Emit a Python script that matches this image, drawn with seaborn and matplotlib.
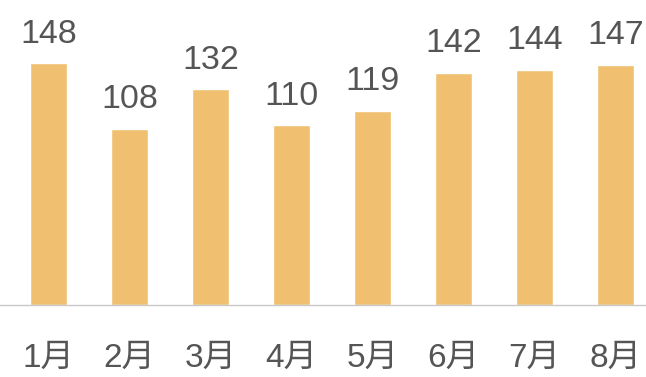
import matplotlib
matplotlib.use("Agg")
import matplotlib.pyplot as plt
import seaborn as sns
import pandas as pd

# Monthly values
months = ["1月", "2月", "3月", "4月", "5月", "6月", "7月", "8月"]
values = [148, 108, 132, 110, 119, 142, 144, 147]

sns.set_theme(style="white")
plt.rcParams["font.family"] = ["Liberation Sans", "Noto Sans CJK SC", "DejaVu Sans"]

df = pd.DataFrame({"month": months, "value": values})

W, H = 646, 377
fig = plt.figure(figsize=(W / 100, H / 100), dpi=100)
ax = fig.add_axes([0, 72 / H, 1, 1 - 72 / H])

bar_color = "#F0C070"
sns.barplot(data=df, x="month", y="value", color=bar_color, width=0.46,
            saturation=1, ax=ax)

# Horizontal placement: first bar centre ~48px, spacing ~81px
step = 81.0
x0 = -48.5 / step
ax.set_xlim(x0, x0 + W / step)
ax.set_ylim(0, 186.8)

text_color = "#555555"
for patch, v in zip(ax.patches, values):
    ax.annotate(str(v), xy=(patch.get_x() + patch.get_width() / 2, v),
                xytext=(0, 15), textcoords="offset points",
                ha="center", va="baseline", fontsize=24.5, color=text_color)

for s in ["top", "right", "left"]:
    ax.spines[s].set_visible(False)
ax.spines["bottom"].set_color("#C8C8C8")
ax.spines["bottom"].set_linewidth(1.0)

ax.set_yticks([])
ax.set_xlabel("")
ax.set_ylabel("")
ax.tick_params(axis="x", length=0, pad=27, labelsize=24, labelcolor=text_color)

fig.savefig("out.png", dpi=100)
